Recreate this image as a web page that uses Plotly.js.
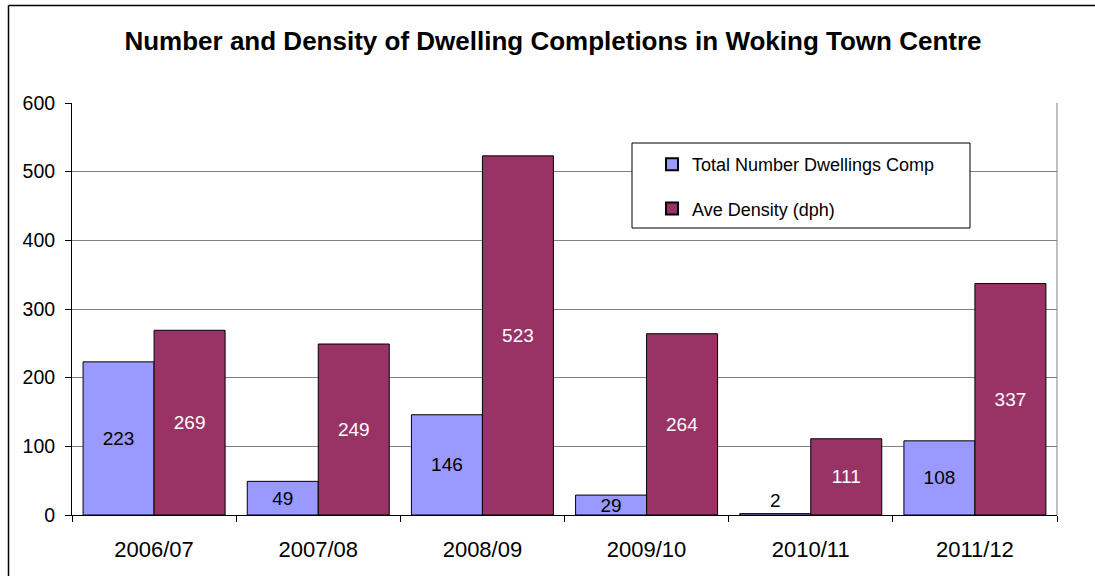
<!DOCTYPE html>
<html>
<head>
<meta charset="utf-8">
<script src="https://cdn.plot.ly/plotly-3.0.1.min.js"></script>
<style>
html,body{margin:0;padding:0;background:#fff;}
#chart{width:1095px;height:576px;}
</style>
</head>
<body>
<div id="chart"></div>
<script>
const years = ["2006/07", "2007/08", "2008/09", "2009/10", "2010/11", "2011/12"];
const totalDwellings = [223, 49, 146, 29, 2, 108];
const aveDensity = [269, 249, 523, 264, 111, 337];
const seriesNames = ["Total Number Dwellings Comp", "Ave Density (dph)"];
const yTicks = [0, 100, 200, 300, 400, 500, 600];

const W = 1095, H = 576;
const L = 72, R = 38, T = 103, B = 61;
const pw = W - L - R, ph = H - T - B;
const px = x => (x - L) / pw;
const py = y => (H - B - y) / ph;

const font = "Liberation Sans, Arial, sans-serif";

const trace1 = {
  type: "bar", name: seriesNames[0], x: years, y: totalDwellings,
  marker: {color: "#9999FF", line: {color: "#000000", width: 1}},
  text: totalDwellings.map(String),
  textposition: totalDwellings.map(v => v < 10 ? "outside" : "inside"),
  insidetextanchor: "middle",
  constraintext: "none",
  textangle: 0,
  textfont: {family: font, size: 19, color: "#000000"},
  legendgroup: "a", hoverinfo: "x+y"
};
const trace2 = {
  type: "bar", name: seriesNames[1], x: years, y: aveDensity,
  marker: {color: "#993366", line: {color: "#000000", width: 1}},
  text: aveDensity.map(String),
  textposition: "inside",
  insidetextanchor: "middle",
  constraintext: "none",
  textangle: 0,
  textfont: {family: font, size: 19, color: "#FFFFFF"},
  legendgroup: "b", hoverinfo: "x+y"
};

const layout = {
  width: W, height: H,
  margin: {l: L, r: R, t: T, b: B},
  paper_bgcolor: "#FFFFFF", plot_bgcolor: "#FFFFFF",
  font: {family: font, color: "#000000"},
  barmode: "group", bargap: 0.135, bargroupgap: 0,
  title: {
    text: "<b>Number and Density of Dwelling Completions in Woking Town Centre</b>",
    font: {family: font, size: 26, color: "#000000"},
    x: px(553), xref: "paper", xanchor: "center",
    y: 1 - 41 / H, yref: "container", yanchor: "middle"
  },
  xaxis: {
    type: "category", tickson: "boundaries",
    showline: true, linecolor: "#000000", linewidth: 1,
    ticks: "outside", ticklen: 6, tickcolor: "#000000",
    tickfont: {family: font, size: 22, color: "#000000"},
    ticklabelstandoff: 15,
    showgrid: false, zeroline: false, fixedrange: true
  },
  yaxis: {
    range: [0, 600], tickvals: yTicks, ticktext: yTicks.map(String),
    showline: true, linecolor: "#000000", linewidth: 1,
    ticks: "outside", ticklen: 6, tickcolor: "#000000",
    tickfont: {family: font, size: 19.5, color: "#000000"},
    ticklabelstandoff: 6,
    showgrid: true, gridcolor: "#808080", gridwidth: 1,
    zeroline: false, fixedrange: true
  },
  showlegend: true,
  legend: {
    x: px(652), y: py(146), xanchor: "left", yanchor: "top",
    bgcolor: "rgba(0,0,0,0)", borderwidth: 0,
    font: {family: font, size: 18, color: "#000000"},
    traceorder: "grouped", tracegroupgap: 18,
    itemsizing: "constant"
  },
  shapes: [
    {type: "line", xref: "paper", yref: "paper", x0: px(8.5), x1: px(8.5), y0: py(5.5), y1: py(600), line: {color: "#000", width: 1.5}},
    {type: "line", xref: "paper", yref: "paper", x0: px(8.5), x1: px(1200), y0: py(5.5), y1: py(5.5), line: {color: "#000", width: 1.5}},
    {type: "line", xref: "paper", yref: "paper", x0: 1, x1: 1, y0: 0, y1: 1, line: {color: "#808080", width: 1}},
    {type: "rect", xref: "paper", yref: "paper", x0: px(632), x1: px(970), y0: py(143), y1: py(228), line: {color: "#000", width: 1}, fillcolor: "#FFFFFF", layer: "above"}
  ]
};

Plotly.newPlot("chart", [trace1, trace2], layout, {displayModeBar: false, staticPlot: true});
</script>
</body>
</html>
